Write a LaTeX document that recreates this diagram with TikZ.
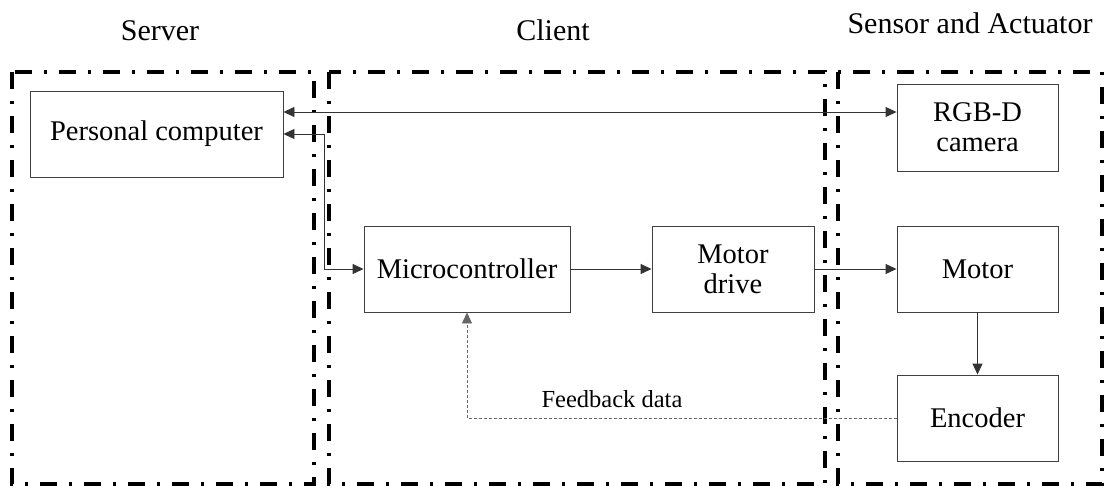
\documentclass[tikz,border=0pt]{standalone}
\usepackage{fontspec}
\setmainfont{Liberation Serif}
\usetikzlibrary{arrows.meta}
\begin{document}
\begin{tikzpicture}[x=1pt,y=-1pt,
  blockbox/.style={draw=black!75,line width=0.9pt,fill=white,align=center,
    inner sep=0pt,font=\fontsize{28.5}{30}\selectfont},
  zone/.style={draw=black,line width=4pt,
    dash pattern=on 17pt off 12pt on 3pt off 12pt},
  zonetitle/.style={anchor=base,font=\fontsize{30}{32}\selectfont},
  tip/.style={Triangle[length=11pt,width=10pt]},
  link/.style={draw=black!80,line width=0.9pt,-{Triangle[length=11pt,width=10pt]}},
  dlink/.style={link,{Triangle[length=11pt,width=10pt]}-{Triangle[length=11pt,width=10pt]}},
  fblink/.style={link,draw=black!60,dash pattern=on 3pt off 2pt}]
\useasboundingbox (0,0) rectangle (1108,488);

% zones
\draw[zone] (12,72) rectangle (314,484);
\draw[zone] (329,72) rectangle (825,484);
\draw[zone] (838,72) rectangle (1102,484);

\node[zonetitle] (tserver) at (160,40) {Server};
\node[zonetitle] (tclient) at (553,40) {Client};
\node[zonetitle] (tsensor) at (970,33) {Sensor and Actuator};

% blocks
\node[blockbox,minimum width=253pt,minimum height=86pt] (pc) at (156.5,134) {Personal computer};
\node[blockbox,minimum width=161pt,minimum height=87pt] (cam) at (977.5,127.5) {RGB-D\\camera};
\node[blockbox,minimum width=206pt,minimum height=86pt] (mcu) at (467,269) {Microcontroller};
\node[blockbox,minimum width=162pt,minimum height=86pt] (drv) at (733,269) {Motor\\drive};
\node[blockbox,minimum width=161pt,minimum height=86pt] (mot) at (977.5,269) {Motor};
\node[blockbox,minimum width=161pt,minimum height=86pt] (enc) at (977.5,418) {Encoder};

% helper coordinates
\coordinate (camline) at (0,112);
\coordinate (bus) at (324,0);

% connectors
\draw[dlink] (pc.east |- camline) -- (cam.west |- camline);
\draw[dlink] (pc.east) -- (pc.east -| bus) -- (bus |- mcu.west) -- (mcu.west);
\draw[link] (mcu.east) -- (drv.west);
\draw[link] (drv.east) -- (mot.west);
\draw[link] (mot.south) -- (enc.north);
\draw[fblink] (enc.west) -| (mcu.south);

\node[font=\fontsize{24.5}{26}\selectfont] (fb) at (612,399) {Feedback data};
\end{tikzpicture}
\end{document}
